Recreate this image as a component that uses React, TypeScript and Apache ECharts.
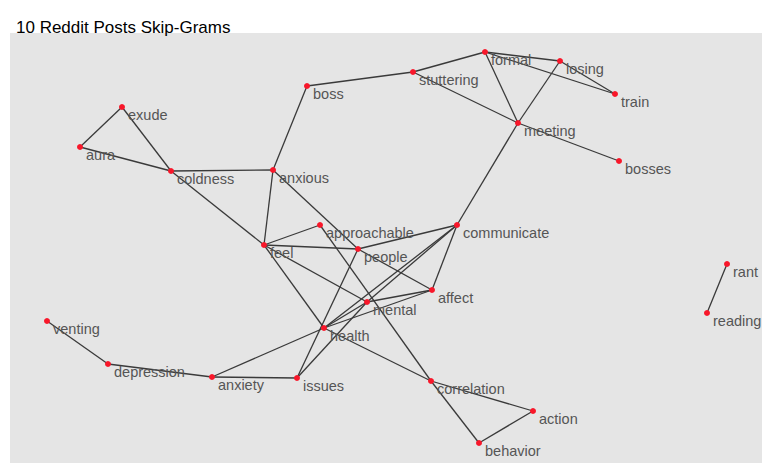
import { useEffect, useRef } from 'react';
import * as echarts from 'echarts';

const words = ['exude', 'aura', 'coldness', 'boss', 'stuttering', 'formal', 'losing', 'train', 'meeting', 'bosses', 'anxious', 'feel', 'approachable', 'people', 'communicate', 'affect', 'mental', 'health', 'venting', 'depression', 'anxiety', 'issues', 'correlation', 'action', 'behavior', 'rant', 'reading'];
const xs = [122, 80, 171, 307, 413, 485, 560, 615, 518, 619, 273, 264, 320, 358, 457, 432, 367, 324, 47, 108, 212, 297, 431, 533, 479, 727, 707];
const ys = [107, 147, 171, 86, 72, 52, 61, 94, 123, 161, 170, 245, 225, 249, 225, 290, 302, 328, 321, 364, 377, 378, 381, 411, 443, 264, 313];
const links: [string, string][] = [
  ['exude', 'aura'], ['exude', 'coldness'], ['aura', 'coldness'], ['coldness', 'anxious'], ['coldness', 'feel'],
  ['boss', 'anxious'], ['boss', 'stuttering'], ['stuttering', 'formal'], ['stuttering', 'meeting'],
  ['formal', 'losing'], ['formal', 'meeting'], ['formal', 'train'], ['losing', 'meeting'], ['losing', 'train'],
  ['meeting', 'bosses'], ['meeting', 'communicate'], ['anxious', 'feel'], ['anxious', 'people'],
  ['feel', 'approachable'], ['feel', 'people'], ['feel', 'mental'], ['feel', 'health'],
  ['approachable', 'correlation'], ['people', 'communicate'], ['people', 'affect'], ['people', 'issues'],
  ['communicate', 'affect'], ['communicate', 'mental'], ['communicate', 'health'], ['mental', 'affect'], ['health', 'affect'],
  ['health', 'mental'], ['health', 'anxiety'], ['health', 'correlation'], ['mental', 'issues'],
  ['anxiety', 'issues'], ['depression', 'anxiety'], ['venting', 'depression'],
  ['correlation', 'action'], ['correlation', 'behavior'], ['action', 'behavior'], ['rant', 'reading'],
];

export default function App() {
  const ref = useRef<HTMLDivElement>(null);
  useEffect(() => {
    if (!ref.current) return;
    const chart = echarts.init(ref.current, undefined, { renderer: 'svg' });
    chart.setOption({
      animation: false,
      backgroundColor: '#fff',
      title: { text: '10 Reddit Posts Skip-Grams', left: 3, top: 6, textStyle: { fontFamily: 'Liberation Sans', fontSize: 17, fontWeight: 'normal', color: '#000' } },
      grid: { left: 2, right: 0, top: 25, bottom: 4, show: true, backgroundColor: '#e5e5e5', borderWidth: 0 },
      xAxis: { type: 'value', min: 2, max: 754, show: false },
      yAxis: { type: 'value', min: 25, max: 455, inverse: true, show: false },
      series: [{
        type: 'graph',
        coordinateSystem: 'cartesian2d',
        symbolSize: 6,
        itemStyle: { color: '#f8172a' },
        lineStyle: { color: '#3a3a3a', width: 1.3, opacity: 1 },
        label: { show: true, position: 'right', offset: [-2, 8], color: '#555', fontSize: 14.5, fontFamily: 'Liberation Sans' },
        data: words.map((w, i) => ({ name: w, value: [xs[i] - 8, ys[i] - 8] })),
        links: links.map(([s, t]) => ({ source: s, target: t })),
        z: 3,
      }],
    });
    return () => chart.dispose();
  }, []);
  return <div ref={ref} style={{ width: 754, height: 459 }} />;
}
